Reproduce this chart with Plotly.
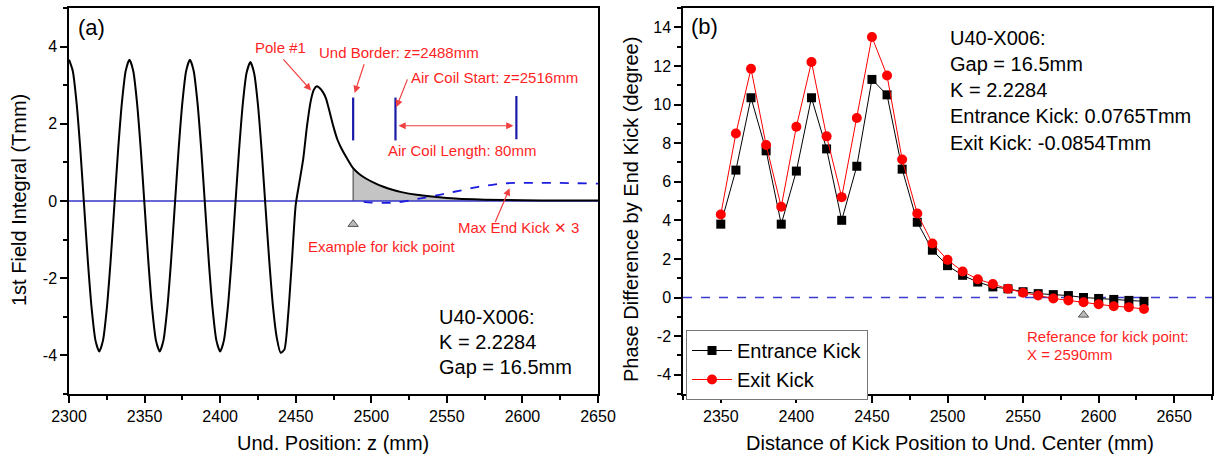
import numpy as np
import plotly.graph_objects as go

# ---------------- Panel (a) data ----------------
z_a = [2300, 2302.5, 2305, 2307.5, 2310, 2312.5, 2315, 2317.5, 2320, 2322.5, 2325, 2327.5, 2330, 2332.5, 2335, 2337.5,
       2340, 2342.5, 2345, 2347.5, 2350, 2352.5, 2355, 2357.5, 2360, 2362.5, 2365, 2367.5, 2370, 2372.5, 2375, 2377.5,
       2380, 2382.5, 2385, 2387.5, 2390, 2392.5, 2395, 2397.5, 2400, 2402.5, 2405, 2407.5, 2410, 2412.5, 2415, 2417.5,
       2420, 2422.5, 2425, 2427.5, 2430, 2432.5, 2435, 2437.5, 2440, 2442.5, 2445, 2447.5, 2450, 2452.5, 2455, 2457.5,
       2460, 2462, 2464, 2466, 2468, 2470, 2472.5, 2475, 2477.5, 2480, 2484, 2488, 2492, 2497, 2503, 2508, 2514, 2520,
       2530, 2540, 2550, 2560, 2575, 2600, 2625, 2650]
field_a = [3.66, 3.37, 2.55, 1.33, -0.12, -1.57, -2.79, -3.61, -3.90, -3.61, -2.79, -1.57, -0.12, 1.33, 2.55, 3.37,
           3.66, 3.37, 2.55, 1.33, -0.12, -1.57, -2.79, -3.61, -3.90, -3.61, -2.79, -1.57, -0.12, 1.33, 2.55, 3.37,
           3.66, 3.37, 2.55, 1.33, -0.12, -1.57, -2.79, -3.61, -3.90, -3.61, -2.79, -1.57, -0.12, 1.31, 2.52, 3.32,
           3.60, 3.31, 2.50, 1.28, -0.15, -1.55, -2.75, -3.55, -3.93, -3.85, -2.95, -1.55, -0.10, 0.50, 1.10, 1.95,
           2.60, 2.88, 2.97, 2.92, 2.82, 2.66, 2.30, 1.92, 1.60, 1.38, 1.10, 0.85, 0.70, 0.57, 0.45, 0.37, 0.29, 0.23,
           0.16, 0.115, 0.08, 0.055, 0.035, 0.02, 0.012, 0.01]

end_kick_z = [2495, 2500, 2510, 2520, 2530, 2540, 2550, 2560, 2570, 2580, 2590, 2600, 2620, 2650]
end_kick_x3 = [-0.02, -0.04, -0.05, -0.02, 0.05, 0.12, 0.20, 0.28, 0.36, 0.42, 0.46, 0.47, 0.47, 0.45]

kick_example_z = 2488
border_z = [2488, 2516, 2596]
border_lo = [1.57, 1.57, 1.60]
border_hi = [2.68, 2.68, 2.72]
coil_start, coil_end = 2516, 2596

# ---------------- Panel (b) data ----------------
dist_b = [2350, 2360, 2370, 2380, 2390, 2400, 2410, 2420, 2430, 2440, 2450, 2460, 2470, 2480, 2490,
          2500, 2510, 2520, 2530, 2540, 2550, 2560, 2570, 2580, 2590, 2600, 2610, 2620, 2630]
entrance_kick = [3.8, 6.6, 10.35, 7.6, 3.8, 6.55, 10.35, 7.7, 4.0, 6.8, 11.3, 10.5, 6.65, 3.9, 2.45,
                 1.65, 1.15, 0.8, 0.55, 0.45, 0.3, 0.2, 0.15, 0.1, 0.0, -0.05, -0.1, -0.15, -0.2]
exit_kick = [4.3, 8.5, 11.85, 7.9, 4.7, 8.85, 12.2, 8.35, 5.2, 9.3, 13.5, 11.5, 7.15, 4.35, 2.8,
             1.95, 1.35, 0.95, 0.7, 0.45, 0.25, 0.1, -0.05, -0.15, -0.25, -0.35, -0.45, -0.5, -0.6]
ref_kick_x = 2590

# tick labels
xa_ticks = [2300, 2350, 2400, 2450, 2500, 2550, 2600, 2650]
ya_ticks = [-4, -2, 0, 2, 4]
xb_ticks = [2350, 2400, 2450, 2500, 2550, 2600, 2650]
yb_ticks = [-4, -2, 0, 2, 4, 6, 8, 10, 12, 14]

FONT = "Liberation Sans, Arial, sans-serif"
RED = "#ff1f1f"

W, H = 1214, 458
xa_dom = [69 / W, 598 / W]
xb_dom = [683 / W, 1212 / W]
y_dom = [64 / H, 450 / H]

fig = go.Figure()

za = np.array(z_a)
fa = np.array(field_a)

# shaded area after the kick point
mask = za >= kick_example_z
fig.add_trace(go.Scatter(x=za[mask], y=fa[mask], mode="lines", line=dict(color="rgba(0,0,0,0)", width=0),
                         fill="tozeroy", fillcolor="#c4c4c4", showlegend=False, xaxis="x", yaxis="y"))
# vertical edge at kick point
fig.add_trace(go.Scatter(x=[kick_example_z, kick_example_z], y=[0, float(fa[za == kick_example_z][0])],
                         mode="lines", line=dict(color="#555555", width=1.2), showlegend=False, xaxis="x", yaxis="y"))
# zero line
fig.add_trace(go.Scatter(x=[z_a[0], z_a[-1]], y=[0, 0], mode="lines", line=dict(color="#3535c8", width=1.3),
                         showlegend=False, xaxis="x", yaxis="y"))
# field integral
fig.add_trace(go.Scatter(x=z_a, y=field_a, mode="lines", line=dict(color="black", width=2, shape="spline", smoothing=0.6),
                         showlegend=False, xaxis="x", yaxis="y"))
# end kick x3 dashed
fig.add_trace(go.Scatter(x=end_kick_z, y=end_kick_x3, mode="lines",
                         line=dict(color="#1c1ce0", width=1.8, dash="dash", shape="spline"),
                         showlegend=False, xaxis="x", yaxis="y"))
# border / coil markers
bx, by = [], []
for zz, lo, hi in zip(border_z, border_lo, border_hi):
    bx += [zz, zz, None]
    by += [lo, hi, None]
fig.add_trace(go.Scatter(x=bx, y=by, mode="lines", line=dict(color="#1a1aa8", width=2.2), showlegend=False,
                         xaxis="x", yaxis="y"))
# triangle for kick point example
fig.add_trace(go.Scatter(x=[kick_example_z], y=[-0.6], mode="markers",
                         marker=dict(symbol="triangle-up", size=9, color="#b8b8b8", line=dict(color="#555555", width=1)),
                         showlegend=False, xaxis="x", yaxis="y"))

# ---------------- Panel (b) traces ----------------
fig.add_trace(go.Scatter(x=[2325, 2675], y=[0, 0], mode="lines", line=dict(color="#3b3bd0", width=1.3, dash="dash"),
                         showlegend=False, xaxis="x2", yaxis="y2"))
fig.add_trace(go.Scatter(x=dist_b, y=entrance_kick, mode="lines+markers", name="Entrance Kick",
                         line=dict(color="black", width=1),
                         marker=dict(symbol="square", size=9, color="black"), xaxis="x2", yaxis="y2"))
fig.add_trace(go.Scatter(x=dist_b, y=exit_kick, mode="lines+markers", name="Exit Kick",
                         line=dict(color="#ff0000", width=1),
                         marker=dict(symbol="circle", size=10, color="#ff0000"), xaxis="x2", yaxis="y2"))
fig.add_trace(go.Scatter(x=[ref_kick_x], y=[-0.9], mode="markers",
                         marker=dict(symbol="triangle-up", size=9, color="#b8b8b8", line=dict(color="#555555", width=1)),
                         showlegend=False, xaxis="x2", yaxis="y2"))

tickfont = dict(family=FONT, size=16, color="black")


def main_axis(dom, rng, tv, dtick_minor, anchor):
    return dict(domain=dom, range=rng, anchor=anchor, showgrid=False, zeroline=False, automargin=False,
                showline=True, linecolor="black", linewidth=1.5, mirror=True,
                ticks="outside", ticklen=7, tickwidth=1.5, tickcolor="black",
                tickvals=tv, ticktext=[str(v) for v in tv], tickfont=tickfont,
                minor=dict(ticks="outside", ticklen=4, tickwidth=1.5, tickcolor="black", dtick=dtick_minor,
                           showgrid=False))


def mirror_axis(rng, tv, dtick_minor, overlay, side, anchor):
    return dict(range=rng, overlaying=overlay, side=side, anchor=anchor, showgrid=False, zeroline=False,
                automargin=False,
                showline=False, ticks="inside", ticklen=7, tickwidth=1.5, tickcolor="black",
                tickvals=tv, showticklabels=False,
                minor=dict(ticks="inside", ticklen=4, tickwidth=1.5, tickcolor="black", dtick=dtick_minor,
                           showgrid=False))


fig.update_layout(
    width=W, height=H, margin=dict(l=0, r=0, t=0, b=0, autoexpand=False),
    paper_bgcolor="white", plot_bgcolor="white",
    font=dict(family=FONT, color="black"),
    xaxis=main_axis(xa_dom, [2300, 2650], xa_ticks, 25, "y"),
    yaxis=main_axis(y_dom, [-5, 5], ya_ticks, 1, "x"),
    xaxis2=main_axis(xb_dom, [2325, 2675], xb_ticks, 25, "y2"),
    yaxis2=main_axis(y_dom, [-5, 15], yb_ticks, 1, "x2"),
    xaxis3=mirror_axis([2300, 2650], xa_ticks, 25, "x", "top", "y"),
    yaxis3=mirror_axis([-5, 5], ya_ticks, 1, "y", "right", "x"),
    xaxis4=mirror_axis([2325, 2675], xb_ticks, 25, "x2", "top", "y2"),
    yaxis4=mirror_axis([-5, 15], yb_ticks, 1, "y2", "right", "x2"),
    legend=dict(x=686 / W, y=(H - 330) / H, xanchor="left", yanchor="top", bgcolor="white",
                bordercolor="#777777", borderwidth=1, font=dict(family=FONT, size=20, color="black"),
                tracegroupgap=0, itemwidth=40),
    showlegend=True,
)

ann = []


def txt(x, y, s, size=15, color=RED, xref="x", yref="y", xanchor="center", **kw):
    ann.append(dict(x=x, y=y, xref=xref, yref=yref, text=s, showarrow=False, xanchor=xanchor, yanchor="middle",
                    font=dict(family=FONT, size=size, color=color), **kw))


def arrow(xh, yh, xt, yt, xref="x", yref="y", side="end"):
    ann.append(dict(x=xh, y=yh, ax=xt, ay=yt, xref=xref, yref=yref, axref=xref, ayref=yref, text="",
                    showarrow=True, arrowhead=2, arrowsize=1.2, arrowwidth=1.2, arrowcolor="#f04040",
                    arrowside=side))


# panel (a) labels
txt(2314.6, 4.49, "(a)", size=22, color="black")
txt(2439.6, 3.97, "Pole #1")
arrow(2460.2, 2.86, 2441, 3.71)
txt(2518.4, 3.86, "Und Border: z=2488mm")
arrow(2489.0, 2.80, 2495.6, 3.58)
txt(2581.5, 3.21, "Air Coil Start: z=2516mm")
arrow(2516.6, 2.43, 2524.3, 3.19)
arrow(coil_end - 2, 1.95, coil_start + 1, 1.95, side="end+start")
txt(2559.9, 1.30, "Air Coil Length: 80mm")
txt(2597.3, -0.69, "Max End Kick \u2715 3")
arrow(2591.5, 0.33, 2581.6, -0.58)
txt(2507, -1.19, "Example for kick point")
txt(2543.5, -3.01, "U40-X006:", size=20, color="black", xanchor="left")
txt(2543.5, -3.66, "K = 2.2284", size=20, color="black", xanchor="left")
txt(2543.5, -4.31, "Gap = 16.5mm", size=20, color="black", xanchor="left")

# panel (b) labels
txt(2339.2, 14.04, "(b)", size=22, color="black", xref="x2", yref="y2")
for yy, s in zip([13.47, 12.11, 10.75, 9.38, 8.02],
                 ["U40-X006:", "Gap = 16.5mm", "K = 2.2284", "Entrance Kick: 0.0765Tmm", "Exit Kick: -0.0854Tmm"]):
    txt(2500, yy, s, size=20, color="black", xref="x2", yref="y2", xanchor="left")
txt(2551.5, -2.03, "Referance for kick point:", xref="x2", yref="y2", xanchor="left")
txt(2551.5, -2.97, "X = 2590mm", xref="x2", yref="y2", xanchor="left")

# axis titles
txt(333 / W, (H - 443) / H, "Und. Position: z (mm)", size=20, color="black", xref="paper", yref="paper")
txt(950 / W, (H - 443) / H, "Distance of Kick Position to Und. Center (mm)", size=20, color="black",
    xref="paper", yref="paper")
txt(19 / W, (H - 200) / H, "1st Field Integral (Tmm)", size=20, color="black", xref="paper", yref="paper",
    textangle=-90)
txt(631 / W, (H - 210) / H, "Phase Difference by End Kick (degree)", size=20, color="black", xref="paper",
    yref="paper", textangle=-90)

fig.update_layout(annotations=ann)
fig.write_html("out.html")
